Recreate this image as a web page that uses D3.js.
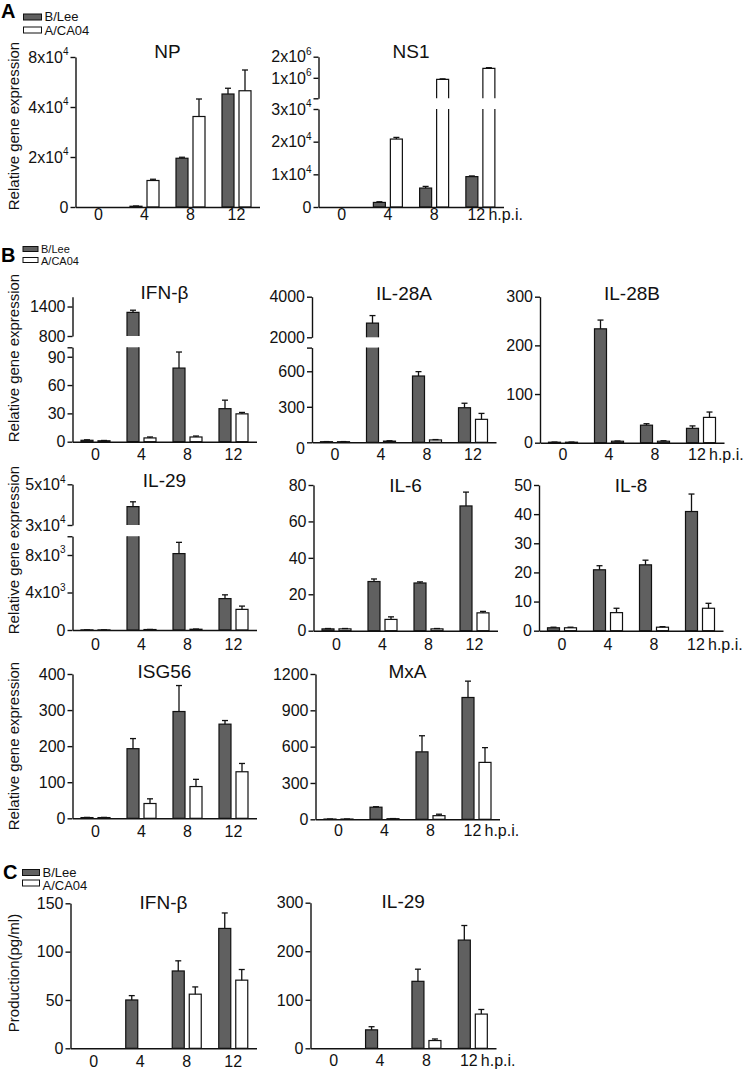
<!DOCTYPE html>
<html><head><meta charset="utf-8">
<script src="https://cdn.jsdelivr.net/npm/d3@7"></script>
<style>
body{margin:0;background:#fff;}
svg{display:block;font-family:Arial,"Liberation Sans",Helvetica,sans-serif;}
</style>
</head><body>
<svg id="chart" width="750" height="1070"></svg>
<script>
// ---------- DATA ----------
const hours = ["0","4","8","12"];
const series = ["B/Lee","A/CA04"];

// Panel A
const npLee = [0, 300, 19500, 45200];
const npLeeErr = [0, 100, 400, 2300];
const npCa = [0, 10600, 36200, 46500];
const npCaErr = [0, 500, 7000, 8300];
const npTicks = [0, 20000, 40000, 60000];
const npTickLabels = ["0","2x10^4","4x10^4","8x10^4"];

const ns1Lee = [0, 1400, 5800, 9300];
const ns1LeeErr = [0, 200, 500, 200];
const ns1Ca = [0, 20800, 930000, 1450000];
const ns1CaErr = [0, 500, 20000, 30000];
const ns1LowTicks = [0, 10000, 20000, 30000];
const ns1LowLabels = ["0","1x10^4","2x10^4","3x10^4"];
const ns1HighTicks = [1e6, 2e6];
const ns1HighLabels = ["1x10^6","2x10^6"];

// Panel B
const ifnLee = [1.5, 1280, 78, 35];
const ifnLeeErr = [0.5, 45, 17, 9];
const ifnCa = [1, 4, 5, 29.5];
const ifnCaErr = [0.3, 1, 1, 1.5];
const ifnLowTicks = [0, 30, 60, 90];
const ifnHighTicks = [800, 1400];

const il28aLee = [5, 2700, 560, 292];
const il28aLeeErr = [1, 370, 37, 38];
const il28aCa = [5, 10, 20, 194];
const il28aCaErr = [1, 3, 3, 50];
const il28aLowTicks = [0, 300, 600];
const il28aHighTicks = [2000, 4000];

const il28bLee = [1, 234, 36, 29.5];
const il28bLeeErr = [0.3, 18, 3, 5];
const il28bCa = [1, 3, 3, 52];
const il28bCaErr = [0.3, 0.5, 1, 11];
const il28bTicks = [0, 100, 200, 300];

const il29Lee = [10, 39000, 8150, 3350];
const il29LeeErr = [5, 2400, 1200, 400];
const il29Ca = [10, 50, 80, 2200];
const il29CaErr = [5, 10, 20, 350];
const il29LowTicks = [0, 4000, 8000];
const il29LowLabels = ["0","4x10^3","8x10^3"];
const il29HighTicks = [30000, 50000];
const il29HighLabels = ["3x10^4","5x10^4"];

const il6Lee = [1, 27, 26.2, 68.5];
const il6LeeErr = [0.2, 1.4, 0.6, 7.6];
const il6Ca = [1, 6.2, 1, 9.8];
const il6CaErr = [0.2, 1.4, 0.2, 0.8];
const il6Ticks = [0, 20, 40, 60, 80];

const il8Lee = [1, 20.9, 22.6, 40.9];
const il8LeeErr = [0.2, 1.4, 1.6, 6];
const il8Ca = [1, 6.2, 1.2, 7.7];
const il8CaErr = [0.2, 1.5, 0.2, 1.7];
const il8Ticks = [0, 10, 20, 30, 40, 50];

const isgLee = [2, 193, 296, 261];
const isgLeeErr = [0.5, 28, 72, 10];
const isgCa = [2, 41, 88, 129];
const isgCaErr = [0.5, 13, 20, 23];
const isgTicks = [0, 100, 200, 300, 400];

const mxaLee = [2, 100, 557, 1006];
const mxaLeeErr = [0.5, 4, 133, 135];
const mxaCa = [2, 5, 30, 470];
const mxaCaErr = [0.5, 1, 12, 122];
const mxaTicks = [0, 300, 600, 900, 1200];

// Panel C
const cIfnLee = [0, 50, 80, 124];
const cIfnLeeErr = [0, 4.5, 10.5, 16];
const cIfnCa = [0, 0, 56, 70.5];
const cIfnCaErr = [0, 0, 7.5, 11];
const cIfnTicks = [0, 50, 100, 150];

const cIl29Lee = [0, 38, 138, 223];
const cIl29LeeErr = [0, 6.5, 25, 30];
const cIl29Ca = [0, 0, 16, 70.5];
const cIl29CaErr = [0, 0, 3.2, 9.5];
const cIl29Ticks = [0, 100, 200, 300];

// ---------- LAYOUT ----------
const panels = [
  {title:"NP", vals:[npLee,npCa], errs:[npLeeErr,npCaErr], xr:[75.5,259.5], titleY:58, xLabY:220,
   segs:[{domain:[0,60000], range:[207,57], ticks:npTicks, labels:npTickLabels}]},
  {title:"NS1", vals:[ns1Lee,ns1Ca], errs:[ns1LeeErr,ns1CaErr], xr:[318.5,503.5], titleY:58, xLabY:220, hpi:true,
   segs:[{domain:[0,30000], range:[207,109], ticks:ns1LowTicks, labels:ns1LowLabels},
         {domain:[30000,2000000], range:[98.3,56.7], ticks:ns1HighTicks, labels:ns1HighLabels}]},
  {title:"IFN-β", vals:[ifnLee,ifnCa], errs:[ifnLeeErr,ifnCaErr], xr:[72.5,256.5], titleY:299, xLabY:460,
   segs:[{domain:[0,100], range:[441.7,347.3], ticks:ifnLowTicks},
         {domain:[800,1600], range:[336,296.7], ticks:ifnHighTicks}]},
  {title:"IL-28A", vals:[il28aLee,il28aCa], errs:[il28aLeeErr,il28aCaErr], xr:[312,496], titleY:300, xLabY:460, zeroDy:6,
   segs:[{domain:[0,800], range:[442.3,347.6], ticks:il28aLowTicks},
         {domain:[2000,4000], range:[337.3,296.7], ticks:il28aHighTicks}]},
  {title:"IL-28B", vals:[il28bLee,il28bCa], errs:[il28bLeeErr,il28bCaErr], xr:[540,724], titleY:300, xLabY:460, hpi:true,
   segs:[{domain:[0,300], range:[442.7,296.7], ticks:il28bTicks}]},
  {title:"IL-29", vals:[il29Lee,il29Ca], errs:[il29LeeErr,il29CaErr], xr:[72.5,256.5], titleY:487, xLabY:650,
   segs:[{domain:[0,10000], range:[630,536.25], ticks:il29LowTicks, labels:il29LowLabels},
         {domain:[30000,50000], range:[525,484.3], ticks:il29HighTicks, labels:il29HighLabels}]},
  {title:"IL-6", vals:[il6Lee,il6Ca], errs:[il6LeeErr,il6CaErr], xr:[313.5,497.5], titleY:492, xLabY:650,
   segs:[{domain:[0,80], range:[630.7,485], ticks:il6Ticks}]},
  {title:"IL-8", vals:[il8Lee,il8Ca], errs:[il8LeeErr,il8CaErr], xr:[539,723], titleY:492, xLabY:650, hpi:true,
   segs:[{domain:[0,50], range:[630.7,485], ticks:il8Ticks}]},
  {title:"ISG56", vals:[isgLee,isgCa], errs:[isgLeeErr,isgCaErr], xr:[72.5,256.5], titleY:678, xLabY:837,
   segs:[{domain:[0,400], range:[818.3,674], ticks:isgTicks}]},
  {title:"MxA", vals:[mxaLee,mxaCa], errs:[mxaLeeErr,mxaCaErr], xr:[315.5,499.5], titleY:678, xLabY:836, hpi:true,
   segs:[{domain:[0,1200], range:[819.3,674], ticks:mxaTicks}]},
  {title:"IFN-β", vals:[cIfnLee,cIfnCa], errs:[cIfnLeeErr,cIfnCaErr], xr:[70.5,256.5], titleY:909, xLabY:1067,
   segs:[{domain:[0,150], range:[1048.3,903.3], ticks:cIfnTicks}]},
  {title:"IL-29", vals:[cIl29Lee,cIl29Ca], errs:[cIl29LeeErr,cIl29CaErr], xr:[310.5,496], titleY:908, xLabY:1066, hpi:true,
   segs:[{domain:[0,300], range:[1048.3,902.7], ticks:cIl29Ticks}]}
];

const fills = ["#606060", "#ffffff"];
const svg = d3.select("#chart");

function supLabel(sel, str){
  const parts = String(str).split("^");
  sel.text(null);
  sel.append("tspan").text(parts[0]);
  if (parts.length > 1) {
    sel.append("tspan").attr("font-size","10px").attr("dy","-0.75em").text(parts[1]);
  }
}

function drawPanel(p){
  const g = svg.append("g");
  const x0 = d3.scaleBand().domain(hours).range(p.xr).padding(0);
  const bw = x0.bandwidth();
  const x1 = d3.scaleBand().domain(series).range([bw/2 - 14.5, bw/2 + 14.5]).paddingInner(0.294);
  const w = x1.bandwidth();
  const segs = p.segs.map(s => Object.assign({}, s, {scale: d3.scaleLinear().domain(s.domain).range(s.range)}));
  const low = segs[0], up = segs[1];

  // bars
  series.forEach((s, si) => {
    hours.forEach((h, i) => {
      const v = p.vals[si][i];
      const e = p.errs[si][i];
      if (v <= 0) return;
      const x = x0(h) + x1(s);
      const yb = low.scale(0);
      if (!up || v <= low.domain[1]) {
        const yt = low.scale(v);
        g.append("rect").attr("x", x).attr("y", yt).attr("width", w).attr("height", Math.max(0, yb - yt))
          .attr("fill", fills[si]).attr("stroke", "#111").attr("stroke-width", 1.2);
      } else {
        const ytl = low.scale(low.domain[1]);
        g.append("rect").attr("x", x).attr("y", ytl).attr("width", w).attr("height", yb - ytl).attr("fill", fills[si]);
        g.append("path").attr("d", `M${x},${ytl}V${yb}H${x+w}V${ytl}`).attr("fill","none").attr("stroke","#111").attr("stroke-width",1.2);
        const ybu = up.scale(up.domain[0]), ytu = up.scale(v);
        g.append("rect").attr("x", x).attr("y", ytu).attr("width", w).attr("height", ybu - ytu).attr("fill", fills[si]);
        g.append("path").attr("d", `M${x},${ybu}V${ytu}H${x+w}V${ybu}`).attr("fill","none").attr("stroke","#111").attr("stroke-width",1.2);
      }
      if (e > 0) {
        const seg = (up && v > low.domain[1]) ? up : low;
        const cx = x + w/2;
        const y1 = seg.scale(v), y2 = seg.scale(v + e);
        g.append("line").attr("x1", cx).attr("x2", cx).attr("y1", y1).attr("y2", y2).attr("stroke","#111").attr("stroke-width",1.3);
        g.append("line").attr("x1", cx - 3).attr("x2", cx + 3).attr("y1", y2).attr("y2", y2).attr("stroke","#111").attr("stroke-width",1.3);
      }
    });
  });

  // y axis segments
  const ax = p.xr[0];
  segs.forEach((s, k) => {
    const ag = g.append("g").attr("transform", `translate(${ax},0)`);
    const extra = [];
    if (segs.length > 1) {
      if (k === 0 && !s.ticks.includes(s.domain[1])) extra.push(s.domain[1]);
      if (k === 1 && !s.ticks.includes(s.domain[0])) extra.push(s.domain[0]);
    }
    ag.call(d3.axisLeft(s.scale).tickValues(s.ticks.concat(extra)).tickSize(5).tickSizeOuter(0).tickFormat(""));
    ag.select(".domain").attr("stroke","#111").attr("stroke-width",1.4);
    ag.selectAll(".tick line").attr("stroke","#111").attr("stroke-width",1.4);
    s.ticks.forEach((t, ti) => {
      const lab = s.labels ? s.labels[ti] : String(t);
      const dy = (t === 0 && p.zeroDy) ? p.zeroDy : 0;
      const txt = ag.append("text").attr("x", -7).attr("y", s.scale(t) + dy).attr("dy","0.36em")
        .attr("text-anchor","end").attr("font-size","16px").attr("fill","#111");
      supLabel(txt, lab);
    });
  });

  // x axis
  const yb = low.scale(0);
  const xg = g.append("g").attr("transform", `translate(0,${yb})`);
  xg.call(d3.axisBottom(x0).tickSize(0).tickSizeOuter(0).tickFormat(""));
  xg.select(".domain").attr("stroke","#111").attr("stroke-width",1.4);
  hours.forEach((h, i) => {
    const cx = x0(h) + bw/2;
    const isLast = i === hours.length - 1;
    g.append("text").attr("x", (p.hpi && isLast) ? cx - 4 : cx).attr("y", p.xLabY)
      .attr("text-anchor","middle").attr("font-size","16px").attr("fill","#111").text(h);
    if (p.hpi && isLast) {
      g.append("text").attr("x", cx + 8).attr("y", p.xLabY).attr("font-size","16px").attr("fill","#111").text("h.p.i.");
    }
  });

  // title
  g.append("text").attr("x", (p.xr[0] + p.xr[1]) / 2).attr("y", p.titleY).attr("text-anchor","middle")
    .attr("font-size","19px").attr("fill","#111").text(p.title);
}

panels.forEach(drawPanel);

// y-axis titles
const yTitles = [
  {t:"Relative gene expression", y:126},
  {t:"Relative gene expression", y:358},
  {t:"Relative gene expression", y:550},
  {t:"Relative gene expression", y:746},
  {t:"Production(pg/ml)", y:973}
];
yTitles.forEach(d => {
  svg.append("text").attr("transform", `translate(19,${d.y}) rotate(-90)`).attr("text-anchor","middle")
    .attr("font-size","15px").attr("fill","#111").text(d.t);
});

// panel letters
[{t:"A", x:1, y:18}, {t:"B", x:1, y:262}, {t:"C", x:3, y:879}].forEach(d => {
  svg.append("text").attr("x", d.x).attr("y", d.y).attr("font-size","20px").attr("font-weight","bold").attr("fill","#000").text(d.t);
});

// legends
function legend(x, rectYs, textYs, rw, rh, fs){
  series.forEach((s, i) => {
    svg.append("rect").attr("x", x).attr("y", rectYs[i]).attr("width", rw).attr("height", rh)
      .attr("fill", fills[i]).attr("stroke","#111").attr("stroke-width",1);
    svg.append("text").attr("x", x + rw + 3).attr("y", textYs[i]).attr("font-size", fs).attr("fill","#111").text(s);
  });
}
legend(23.5, [14, 27], [21, 34.5], 18, 6, "13px");
legend(23, [246.5, 257.5], [252.5, 264.5], 15, 5, "11px");
legend(22.5, [869.5, 880], [877, 890], 17, 6, "13px");
</script>
</body></html>
